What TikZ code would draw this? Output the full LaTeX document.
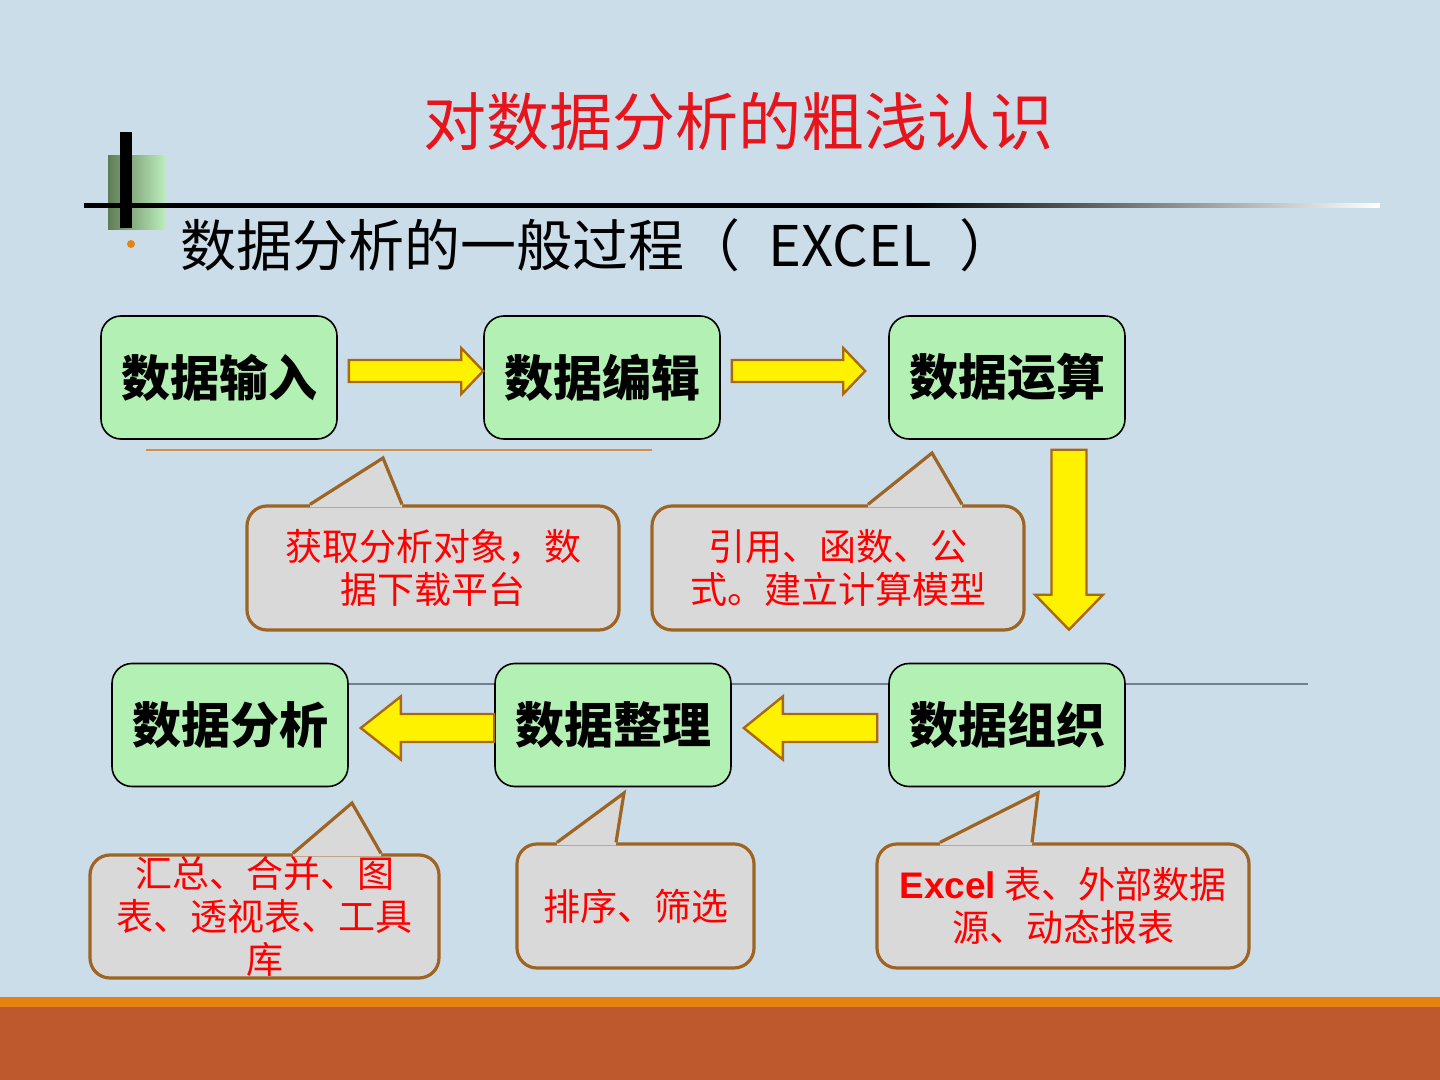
\documentclass[tikz,border=0pt]{standalone}
\usepackage{fontspec}
\usetikzlibrary{calc}
\newfontfamily\cjk{Noto Sans CJK SC}
\newfontfamily\arialfont{Liberation Sans}

\definecolor{slidebg}{RGB}{203,221,233}
\definecolor{boxgreen}{RGB}{179,240,179}
\definecolor{notegrey}{RGB}{217,217,217}
\definecolor{notebrown}{RGB}{158,100,36}
\definecolor{arrowbrown}{RGB}{170,104,18}
\definecolor{titlered}{RGB}{232,20,28}
\definecolor{bandorange}{RGB}{230,130,18}
\definecolor{bandbrown}{RGB}{189,89,44}
\definecolor{lineorange}{RGB}{212,142,70}
\definecolor{linegrey}{RGB}{112,128,140}
\definecolor{decodark}{RGB}{95,125,85}
\definecolor{decolight}{RGB}{190,238,190}

\pgfdeclarehorizontalshading{rulefade}{100bp}{color(0bp)=(black); color(57bp)=(black); color(75bp)=(white); color(100bp)=(white)}

\tikzset{
  procbox/.style={draw=black, line width=0.8pt, fill=boxgreen, rounded corners=10pt,
    minimum width=118pt, minimum height=61.5pt, inner sep=0pt,
    font=\cjk\bfseries\fontsize{24.5}{28}\selectfont},
  notebox/.style={draw=notebrown, line width=1.6pt, fill=notegrey, rounded corners=10pt,
    minimum height=62pt, inner sep=0pt, align=center, text=red,
    font=\cjk\fontsize{18.5}{21.5}\selectfont},
  blockarrow/.style={draw=arrowbrown, line width=1.2pt, fill=yellow},
}

% block arrow: tail, tip, half shaft, half head, head length
\newcommand\harrow[5]{
  \coordinate (t) at (#1);
  \coordinate (p) at (#2);
  \draw[blockarrow] ($(t)-(0,#3)$) -- ($(p)-(#5,#3)$) -- ($(p)-(#5,#4)$) -- (p)
    -- ($(p)-(#5,-#4)$) -- ($(p)-(#5,-#3)$) -- ($(t)-(0,-#3)$) -- cycle;
}

% callout pointer: note, left base x, apex, right base x
\newcommand\pointer[4]{
  \fill[notegrey] (#2,0 |- #1.north) ++(0,3) -- (#2,0 |- #1.north) -- (#3)
    -- (#4,0 |- #1.north) -- ++(0,3) -- cycle;
  \draw[notebrown, line width=1.6pt] (#2,0 |- #1.north) -- (#3) -- (#4,0 |- #1.north);
}

\begin{document}
\begin{tikzpicture}[x=0.5pt, y=-0.5pt]

    \useasboundingbox (0,0) rectangle (1440,1080);
    \fill[slidebg] (0,0) rectangle (1440,1080);
    \fill[bandorange] (0,997) rectangle (1440,1007);
    \fill[bandbrown] (0,1007) rectangle (1440,1080);

    % title mark
    \shade[left color=decodark, right color=decolight] (108,156) rectangle (166,230);
    \shade[shading=rulefade] (84,204) rectangle (1380,208);
    \fill[black] (120,132) rectangle (132,228);

    \node[font=\cjk\fontsize{31.5}{36}\selectfont, text=titlered] (title) at (738,122) {对数据分析的粗浅认识};
    \fill[bandorange] (131,244) circle (2pt);
    \node[anchor=west, inner sep=0pt, font=\cjk\fontsize{28}{32}\selectfont] (subtitle) at (180,245) {数据分析的一般过程（\hspace{14pt}EXCEL\hspace{14pt}）};

    \draw[lineorange, line width=1pt] (146,450) -- (652,450);
    \draw[linegrey, line width=1.2pt] (348,684) -- (1308,684);

    % process steps
    \node[procbox] (input)    at (219,377.5) {数据输入};
    \node[procbox] (edit)     at (602,377.5) {数据编辑};
    \node[procbox] (compute)  at (1007,377.5) {数据运算};
    \node[procbox] (analyse)  at (230,725) {数据分析};
    \node[procbox] (tidy)     at (613,725) {数据整理};
    \node[procbox] (organise) at (1007,725) {数据组织};

    % arrows between the steps
    \harrow{[xshift=5.5pt,yshift=3.25pt]input.east}{[yshift=3.25pt]edit.west}{11}{23}{22}
    \harrow{[xshift=5.5pt,yshift=3.25pt]edit.east}{[xshift=-11.5pt,yshift=3.25pt]compute.west}{11}{23}{22}
    \harrow{[yshift=-1.5pt]tidy.west}{[xshift=6pt,yshift=-1.5pt]analyse.east}{14}{31.5}{-40}
    \harrow{[xshift=-5.5pt,yshift=-1.5pt]organise.west}{[xshift=6pt,yshift=-1.5pt]tidy.east}{14}{31.5}{-39}

    \coordinate (t) at ([xshift=31pt,yshift=-5pt]compute.south);
    \coordinate (p) at ([xshift=31pt,yshift=16.5pt]organise.north);
    \draw[blockarrow] ($(t)+(-17.5,0)$) -- ($(p)+(-17.5,-35)$) -- ($(p)+(-34,-35)$) -- (p)
      -- ($(p)+(34,-35)$) -- ($(p)+(17.5,-35)$) -- ($(t)+(17.5,0)$) -- cycle;

    % notes
    \node[notebox, minimum width=186pt] (getnote) at (433,568) {获取分析对象，数\\据下载平台};
    \node[notebox, minimum width=186pt] (formulanote) at (838,568) {引用、函数、公\\式。建立计算模型};
    \node[notebox, minimum width=174.5pt, minimum height=61.5pt] (sumnote) at (264.5,916.5) {汇总、合并、图\\表、透视表、工具\\库};
    \node[notebox, minimum width=118.5pt] (sortnote) at (635.5,906) {排序、筛选};
    \node[notebox, minimum width=186pt] (sourcenote) at (1063,906) {{\arialfont\bfseries Excel} 表、外部数据\\源、动态报表};

    \pointer{getnote}{310}{383,458}{402}
    \pointer{formulanote}{868}{932,453}{962}
    \pointer{sumnote}{293}{352,803}{381}
    \pointer{sortnote}{557}{624,793}{616}
    \pointer{sourcenote}{940}{1038,793}{1032}

\end{tikzpicture}
\end{document}
